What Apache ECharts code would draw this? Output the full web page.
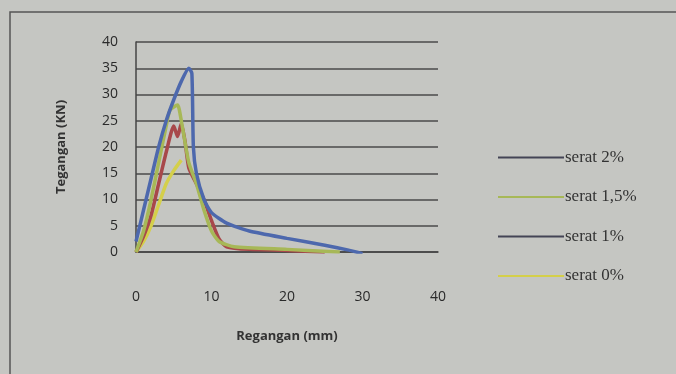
<!DOCTYPE html>
<html><head><meta charset="utf-8">
<script src="https://cdn.jsdelivr.net/npm/echarts@6/dist/echarts.min.js"></script>
<style>html,body{margin:0;padding:0;background:#c5c6c2}#c{width:676px;height:374px}</style>
</head><body><div id="c"></div>
<script>
const seriesNames = ['serat 2%', 'serat 1,5%', 'serat 1%', 'serat 0%'];
const serat2 = [[0,2],[1,8],[2,14],[3,20],[4,25],[5,29],[6,32.5],[7,35],[7.4,34],[7.6,20],[8,15],[9,10],[10,7.5],[12,5.5],[15,4],[20,2.6],[25,1.3],[28,0.4],[30,-0.3]];
const serat15 = [[0,0],[1,4],[2,10],[3,17],[4,24],[4.5,27],[5.5,28],[6,25],[7,17],[8,13],[9,8],[10,4],[11,2],[13,1],[20,0.5],[27,0]];
const serat1 = [[0,0],[1,3],[2,7],[3,13],[4,19],[5,24],[5.5,22],[6,24.5],[6.5,21],[7,16],[8,13],[9,10],[10,6],[11,2.5],[12,1],[15,0.5],[20,0.3],[25,0]];
const serat0 = [[0,0],[1,2],[2,5],[3,9],[4,13],[5,15.5],[6,17.5]];
const colors = ['#4d68ad', '#a7b857', '#a8484a', '#d4cf4a'];
const yTicks = [0,5,10,15,20,25,30,35,40];
const xTicks = [0,10,20,30,40];

const chart = echarts.init(document.getElementById('c'));
const data = [serat2, serat15, serat1, serat0];
chart.setOption({
  backgroundColor: '#c5c6c2',
  animation: false,
  color: colors,
  graphic: [{type:'rect', shape:{x:10,y:12,width:700,height:400}, style:{fill:'none', stroke:'#555', lineWidth:1.5}}],
  grid: {left:136, right:238, top:42, bottom:122},
  legend: {
    orient:'vertical', left:493, top:144, itemGap:22.5, itemWidth:66, itemHeight:20,
    icon:'path://M0,9L66,9L66,11L0,11Z',
    data: seriesNames.map((n,i)=>({name:n, itemStyle:{color: i===1||i===3 ? colors[i] : '#445'}})),
    textStyle:{fontFamily:'Liberation Serif', fontSize:17, color:'#333', padding:[0,0,0,-4]}
  },
  xAxis: {
    type:'value', min:xTicks[0], max:xTicks[xTicks.length-1], interval:10,
    name:'Regangan (mm)', nameLocation:'middle', nameGap:78,
    nameTextStyle:{fontFamily:'Open Sans', fontWeight:'bold', fontSize:13, color:'#333'},
    axisLine:{show:true, onZero:true, lineStyle:{color:'#444', width:1.5}},
    axisTick:{show:false}, splitLine:{show:false},
    axisLabel:{margin:38, fontFamily:'Open Sans', fontSize:14, color:'#2a2a2a'}
  },
  yAxis: {
    type:'value', min:yTicks[0], max:yTicks[yTicks.length-1], interval:5,
    name:'Tegangan (KN)', nameLocation:'middle', nameGap:68,
    nameTextStyle:{fontFamily:'Open Sans', fontWeight:'bold', fontSize:13, color:'#333'},
    axisLine:{show:true, lineStyle:{color:'#444', width:1.5}},
    axisTick:{show:false},
    splitLine:{show:true, lineStyle:{color:'#4a4a4a', width:1.5}},
    axisLabel:{margin:18, fontFamily:'Open Sans', fontSize:14, color:'#2a2a2a'}
  },
  series: seriesNames.map((n,i)=>({
    name:n, type:'line', data:data[i], showSymbol:false, smooth:0.2,
    lineStyle:{width:3.5, color:colors[i]}, z: 10-i
  }))
});
</script></body></html>
